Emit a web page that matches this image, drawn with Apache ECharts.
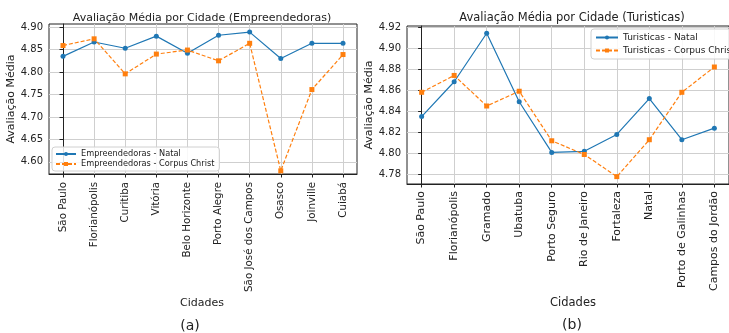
<!DOCTYPE html>
<html><head><meta charset="utf-8">
<script src="https://cdn.jsdelivr.net/npm/echarts@6/dist/echarts.min.js"></script>
<style>html,body{margin:0;padding:0;background:#fff}#c{width:729px;height:333px}</style>
</head><body><div id="c"></div>
<script>
const citiesE = ['São Paulo','Florianópolis','Curitiba','Vitória','Belo Horizonte','Porto Alegre','São José dos Campos','Osasco','Joinville','Cuiabá'];
const natalE = [4.835,4.867,4.853,4.880,4.842,4.882,4.889,4.830,4.864,4.864];
const corpusE = [4.859,4.874,4.796,4.840,4.849,4.825,4.864,4.580,4.761,4.839];
const citiesT = ['São Paulo','Florianópolis','Gramado','Ubatuba','Porto Seguro','Rio de Janeiro','Fortaleza','Natal','Porto de Galinhas','Campos do Jordão'];
const natalT = [4.835,4.868,4.914,4.849,4.801,4.802,4.818,4.852,4.813,4.824];
const corpusT = [4.858,4.874,4.845,4.859,4.812,4.799,4.778,4.813,4.858,4.882];
const ticksE = [4.60,4.65,4.70,4.75,4.80,4.85,4.90];
const ticksT = [4.78,4.80,4.82,4.84,4.86,4.88,4.90,4.92];
const idx = [0,1,2,3,4,5,6,7,8,9];

const F = 'DejaVu Sans';
const BLUE = '#1f77b4', ORANGE = '#ff7f0e';
const gridLine = {show:true, lineStyle:{color:'#cfcfcf', width:1}};
function xAx(gi, cats, fs, margin){
  return {type:'value', gridIndex:gi, min:-0.45, max:9.45,
    axisLine:{show:true, lineStyle:{color:'#222'}},
    axisTick:{show:true, length:3.5, inside:false, customValues:idx, lineStyle:{color:'#222'}},
    axisLabel:{customValues:idx, rotate:90, margin:margin, fontFamily:F, fontSize:fs, color:'#222',
      formatter:v=>cats[Math.round(v)]},
    splitLine:gridLine};
}
function yAx(gi, min, max, ticks, gap){
  return {type:'value', gridIndex:gi, min:min, max:max,
    name:'Avaliação Média', nameLocation:'middle', nameGap:gap,
    nameTextStyle:{fontFamily:F, fontSize:11, color:'#222'},
    axisLine:{show:true, lineStyle:{color:'#222'}},
    axisTick:{show:true, length:3.5, customValues:ticks, lineStyle:{color:'#222'}},
    axisLabel:{customValues:ticks, margin:6, fontFamily:F, fontSize:10, color:'#222',
      formatter:v=>v.toFixed(2)},
    splitLine:gridLine};
}
function ser(name, gi, vals, color, dashed, sym){
  return {type:'line', name:name, xAxisIndex:gi, yAxisIndex:gi,
    data:vals.map((v,i)=>[i,v]), symbol:sym, symbolSize:5,
    itemStyle:{color:color}, lineStyle:{color:color, width:1.2, type:dashed?[4,2]:'solid'},
    animation:false, z:3};
}
const chart = echarts.init(document.getElementById('c'));
chart.setOption({
  animation:false,
  grid:[
    {left:49, top:24, width:308, height:150, show:true, borderColor:'#222', borderWidth:1, backgroundColor:'transparent'},
    {left:407, top:26, width:331, height:158, show:true, borderColor:'#222', borderWidth:1, backgroundColor:'transparent'}
  ],
  xAxis:[xAx(0, citiesE, 10.3, 8), xAx(1, citiesT, 11, 7)],
  yAxis:[yAx(0, 4.573, 4.907, ticksE, 29), yAx(1, 4.771, 4.9209, ticksT, 30)],
  legend:[
    {left:52, top:147, orient:'vertical', itemWidth:20, itemHeight:5, itemGap:2,
     padding:[3,5,3,3], backgroundColor:'rgba(255,255,255,0.85)', borderColor:'#d0d0d0', borderWidth:1, borderRadius:3,
     textStyle:{fontFamily:F, fontSize:8.2, color:'#222'},
     data:['Empreendedoras - Natal','Empreendedoras - Corpus Christ']},
    {left:591, top:29, orient:'vertical', itemWidth:22, itemHeight:5, itemGap:4,
     padding:[4,6,4,4], backgroundColor:'rgba(255,255,255,0.85)', borderColor:'#d0d0d0', borderWidth:1, borderRadius:3,
     textStyle:{fontFamily:F, fontSize:9, color:'#222'},
     data:['Turisticas - Natal','Turisticas - Corpus Christ']}
  ],
  series:[
    ser('Empreendedoras - Natal',0,natalE,BLUE,false,'circle'),
    ser('Empreendedoras - Corpus Christ',0,corpusE,ORANGE,true,'rect'),
    ser('Turisticas - Natal',1,natalT,BLUE,false,'circle'),
    ser('Turisticas - Corpus Christ',1,corpusT,ORANGE,true,'rect')
  ],
  graphic:[
    {type:'text', x:202, y:18, style:{text:'Avaliação Média por Cidade (Empreendedoras)', font:'11px "DejaVu Sans"', fill:'#222', textAlign:'center', textVerticalAlign:'middle'}},
    {type:'text', x:572, y:18, style:{text:'Avaliação Média por Cidade (Turisticas)', font:'11.5px "DejaVu Sans"', fill:'#222', textAlign:'center', textVerticalAlign:'middle'}},
    {type:'text', x:202, y:303, style:{text:'Cidades', font:'11px "DejaVu Sans"', fill:'#222', textAlign:'center', textVerticalAlign:'middle'}},
    {type:'text', x:573, y:303, style:{text:'Cidades', font:'11.5px "DejaVu Sans"', fill:'#222', textAlign:'center', textVerticalAlign:'middle'}},
    {type:'text', x:190, y:326, style:{text:'(a)', font:'14px "DejaVu Sans"', fill:'#222', textAlign:'center', textVerticalAlign:'middle'}},
    {type:'text', x:572, y:325, style:{text:'(b)', font:'14px "DejaVu Sans"', fill:'#222', textAlign:'center', textVerticalAlign:'middle'}}
  ]
});
</script></body></html>
